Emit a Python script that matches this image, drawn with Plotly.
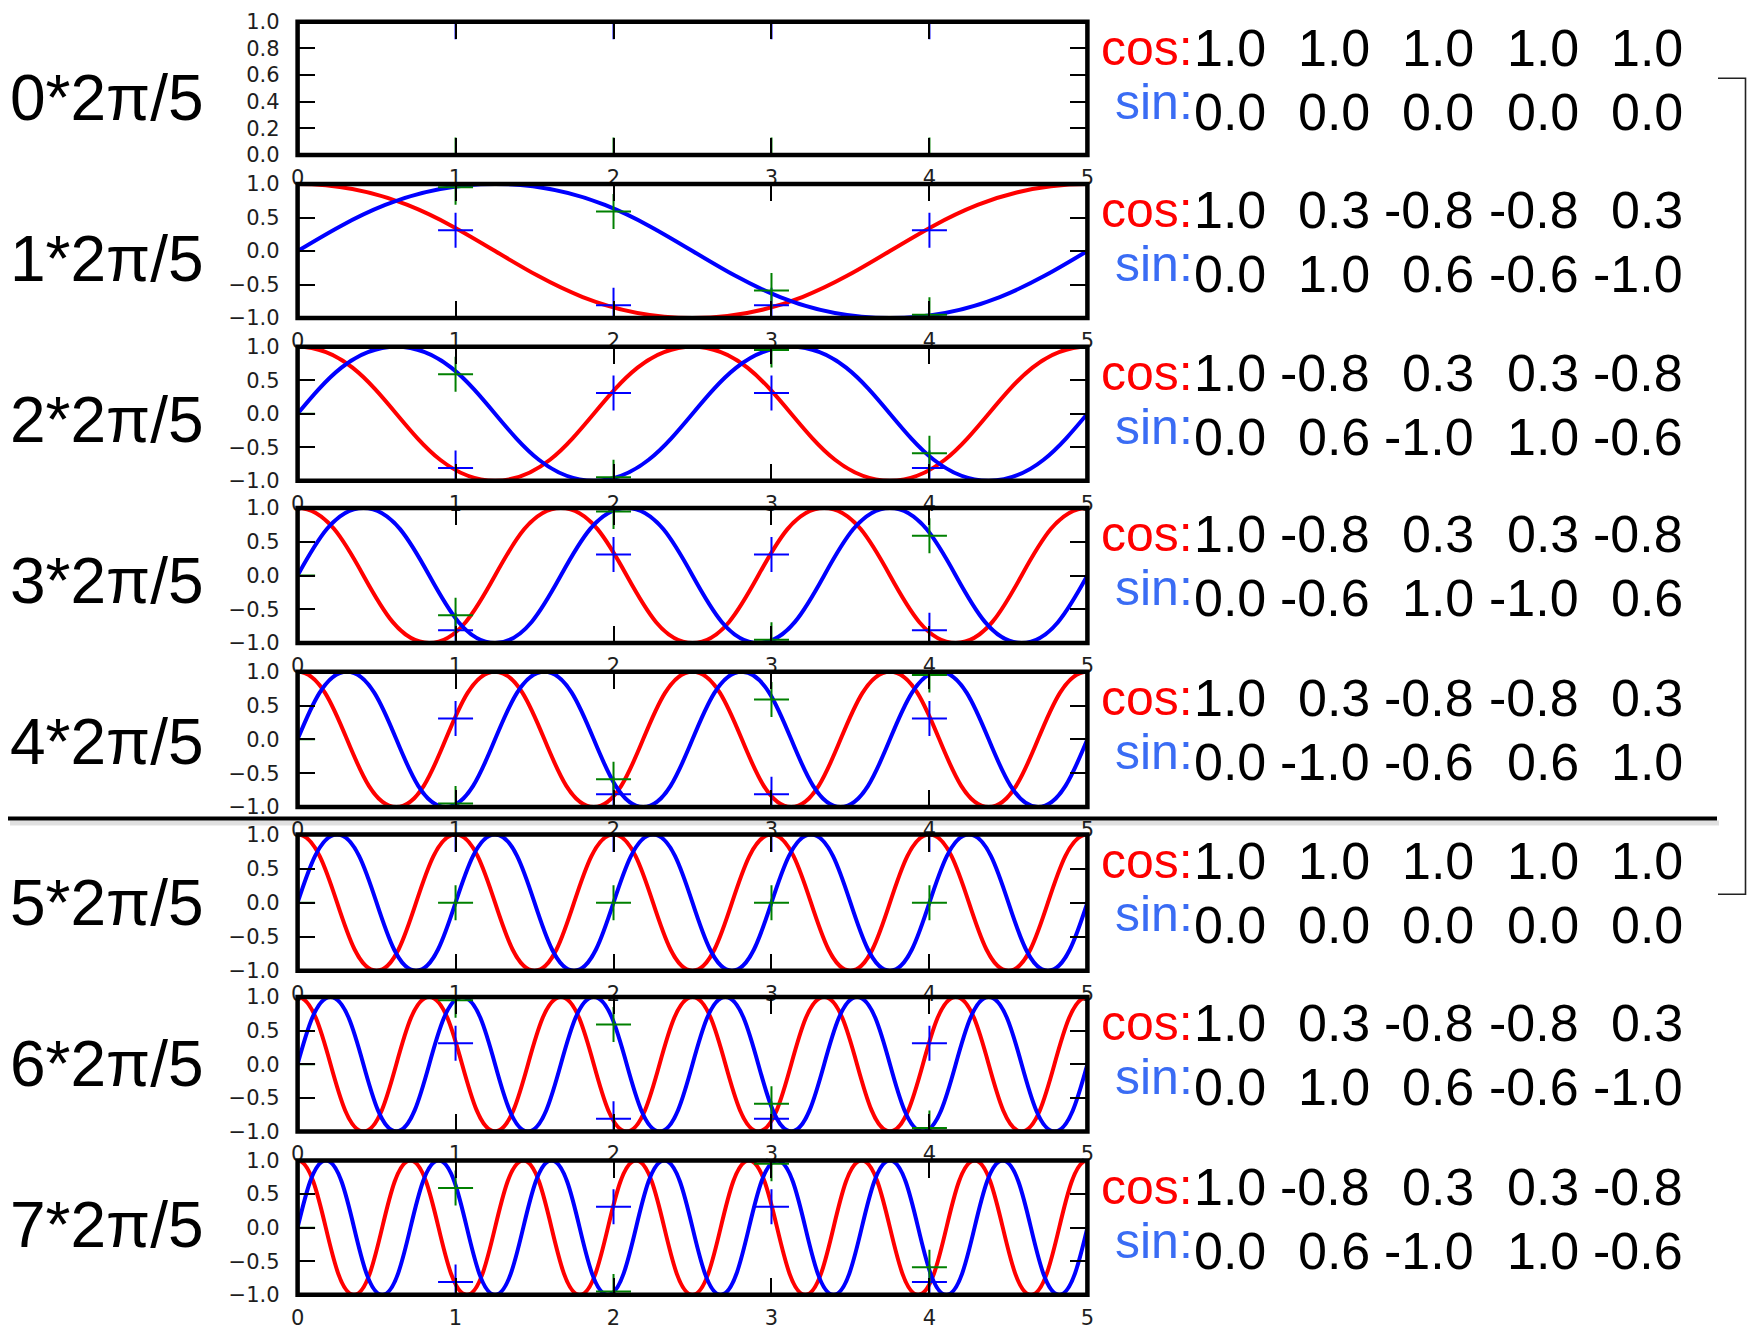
import plotly.graph_objects as go

# ---------------- data ----------------
freq_k = [0, 1, 2, 3, 4, 5, 6, 7]
row_labels = ["0*2π/5", "1*2π/5", "2*2π/5", "3*2π/5", "4*2π/5", "5*2π/5", "6*2π/5", "7*2π/5"]

sample_x = [0, 1, 2, 3, 4]

# sampled values shown by the '+' markers
cos_samples = [
    [1, 1, 1, 1, 1],
    [1, 0.31, -0.81, -0.81, 0.31],
    [1, -0.81, 0.31, 0.31, -0.81],
    [1, -0.81, 0.31, 0.31, -0.81],
    [1, 0.31, -0.81, -0.81, 0.31],
    [1, 1, 1, 1, 1],
    [1, 0.31, -0.81, -0.81, 0.31],
    [1, -0.81, 0.31, 0.31, -0.81],
]
sin_samples = [
    [0, 0, 0, 0, 0],
    [0, 0.95, 0.59, -0.59, -0.95],
    [0, 0.59, -0.95, 0.95, -0.59],
    [0, -0.59, 0.95, -0.95, 0.59],
    [0, -0.95, -0.59, 0.59, 0.95],
    [0, 0, 0, 0, 0],
    [0, 0.95, 0.59, -0.59, -0.95],
    [0, 0.59, -0.95, 0.95, -0.59],
]

# text tables on the right
cos_table = [
    ["1.0", "1.0", "1.0", "1.0", "1.0"],
    ["1.0", "0.3", "-0.8", "-0.8", "0.3"],
    ["1.0", "-0.8", "0.3", "0.3", "-0.8"],
    ["1.0", "-0.8", "0.3", "0.3", "-0.8"],
    ["1.0", "0.3", "-0.8", "-0.8", "0.3"],
    ["1.0", "1.0", "1.0", "1.0", "1.0"],
    ["1.0", "0.3", "-0.8", "-0.8", "0.3"],
    ["1.0", "-0.8", "0.3", "0.3", "-0.8"],
]
sin_table = [
    ["0.0", "0.0", "0.0", "0.0", "0.0"],
    ["0.0", "1.0", "0.6", "-0.6", "-1.0"],
    ["0.0", "0.6", "-1.0", "1.0", "-0.6"],
    ["0.0", "-0.6", "1.0", "-1.0", "0.6"],
    ["0.0", "-1.0", "-0.6", "0.6", "1.0"],
    ["0.0", "0.0", "0.0", "0.0", "0.0"],
    ["0.0", "1.0", "0.6", "-0.6", "-1.0"],
    ["0.0", "0.6", "-1.0", "1.0", "-0.6"],
]

# peaks / troughs of the continuous curves (smoothed by the library's spline)
cos_peak_x = [
    [0, 5],
    [-2.5, 0, 2.5, 5, 7.5],
    [-1.25, 0, 1.25, 2.5, 3.75, 5, 6.25],
    [-0.833, 0, 0.833, 1.667, 2.5, 3.333, 4.167, 5, 5.833],
    [-0.625, 0, 0.625, 1.25, 1.875, 2.5, 3.125, 3.75, 4.375, 5, 5.625],
    [-0.5, 0, 0.5, 1, 1.5, 2, 2.5, 3, 3.5, 4, 4.5, 5, 5.5],
    [-0.417, 0, 0.417, 0.833, 1.25, 1.667, 2.083, 2.5, 2.917, 3.333, 3.75, 4.167, 4.583, 5, 5.417],
    [-0.357, 0, 0.357, 0.714, 1.071, 1.429, 1.786, 2.143, 2.5, 2.857, 3.214, 3.571, 3.929,
     4.286, 4.643, 5, 5.357],
]
cos_peak_y = [
    [1, 1],
    [-1, 1, -1, 1, -1],
    [-1, 1, -1, 1, -1, 1, -1],
    [-1, 1, -1, 1, -1, 1, -1, 1, -1],
    [-1, 1, -1, 1, -1, 1, -1, 1, -1, 1, -1],
    [-1, 1, -1, 1, -1, 1, -1, 1, -1, 1, -1, 1, -1],
    [-1, 1, -1, 1, -1, 1, -1, 1, -1, 1, -1, 1, -1, 1, -1],
    [-1, 1, -1, 1, -1, 1, -1, 1, -1, 1, -1, 1, -1, 1, -1, 1, -1],
]
sin_peak_x = [
    [0, 5],
    [-3.75, -1.25, 1.25, 3.75, 6.25, 8.75],
    [-1.875, -0.625, 0.625, 1.875, 3.125, 4.375, 5.625, 6.875],
    [-1.25, -0.417, 0.417, 1.25, 2.083, 2.917, 3.75, 4.583, 5.417, 6.25],
    [-0.9375, -0.3125, 0.3125, 0.9375, 1.5625, 2.1875, 2.8125, 3.4375, 4.0625, 4.6875,
     5.3125, 5.9375],
    [-0.75, -0.25, 0.25, 0.75, 1.25, 1.75, 2.25, 2.75, 3.25, 3.75, 4.25, 4.75, 5.25, 5.75],
    [-0.625, -0.208, 0.208, 0.625, 1.042, 1.458, 1.875, 2.292, 2.708, 3.125, 3.542, 3.958,
     4.375, 4.792, 5.208, 5.625],
    [-0.536, -0.179, 0.179, 0.536, 0.893, 1.25, 1.607, 1.964, 2.321, 2.679, 3.036, 3.393,
     3.75, 4.107, 4.464, 4.821, 5.179, 5.536],
]
sin_peak_y = [
    [0, 0],
    [1, -1, 1, -1, 1, -1],
    [1, -1, 1, -1, 1, -1, 1, -1],
    [1, -1, 1, -1, 1, -1, 1, -1, 1, -1],
    [1, -1, 1, -1, 1, -1, 1, -1, 1, -1, 1, -1],
    [1, -1, 1, -1, 1, -1, 1, -1, 1, -1, 1, -1, 1, -1],
    [1, -1, 1, -1, 1, -1, 1, -1, 1, -1, 1, -1, 1, -1, 1, -1],
    [1, -1, 1, -1, 1, -1, 1, -1, 1, -1, 1, -1, 1, -1, 1, -1, 1, -1],
]

x_ticks = [0, 1, 2, 3, 4, 5]
y_ticks_first = [0, 0.2, 0.4, 0.6, 0.8, 1.0]
y_ticks_other = [-1, -0.5, 0, 0.5, 1]

# ---------------- layout constants (pixels) ----------------
W, H = 1747, 1331
row_top = [21.7, 184, 346.7, 508, 671.7, 834.5, 997, 1160.5]
row_bot = [155, 318, 480.7, 643, 807, 970.8, 1131.4, 1294.8]
X0, X1 = 297.6, 1087.4


def px(x):
    return x / W


def py(y):
    return 1 - y / H


RED = "#ff0000"
BLUE = "#0000ff"
GREEN = "#008000"
SIN_TXT = "#3a6cf4"
TXT_FONT = "Liberation Sans, Arial, sans-serif"
TICK_FONT = dict(family="DejaVu Sans, sans-serif", size=21, color="#1e1e1e")

fig = go.Figure()
layout_axes = {}
annotations = []
shapes = []

for i, k in enumerate(freq_k):
    n = "" if i == 0 else str(i + 1)
    xa, ya = "x" + n, "y" + n
    common = dict(xaxis=xa, yaxis=ya, hoverinfo="skip", showlegend=False)
    fig.add_trace(go.Scatter(x=cos_peak_x[i], y=cos_peak_y[i], mode="lines",
                             line=dict(color=RED, width=4, shape="spline", smoothing=1.3),
                             **common))
    fig.add_trace(go.Scatter(x=sin_peak_x[i], y=sin_peak_y[i], mode="lines",
                             line=dict(color=BLUE, width=4, shape="spline", smoothing=1.3),
                             **common))
    fig.add_trace(go.Scatter(x=sample_x, y=cos_samples[i], mode="markers",
                             marker=dict(symbol="cross-thin-open", size=25, color=BLUE,
                                         line=dict(color=BLUE, width=2)),
                             **common))
    fig.add_trace(go.Scatter(x=sample_x, y=sin_samples[i], mode="markers",
                             marker=dict(symbol="cross-thin-open", size=25, color=GREEN,
                                         line=dict(color=GREEN, width=2)),
                             **common))

    ax_style = dict(showline=False, mirror="ticks", automargin=False,
                    ticks="inside", ticklen=17, tickwidth=2, tickcolor="black",
                    showgrid=False, zeroline=False, tickfont=TICK_FONT, fixedrange=True)
    layout_axes["xaxis" + n] = dict(domain=[px(X0), px(X1)], anchor=ya, range=[0, 5],
                                    tickvals=x_ticks, tickformat="d", ticklabelstandoff=8,
                                    **ax_style)
    yr = [0, 1] if i == 0 else [-1, 1]
    yt = y_ticks_first if i == 0 else y_ticks_other
    layout_axes["yaxis" + n] = dict(domain=[py(row_bot[i]), py(row_top[i])],
                                    anchor=xa, range=yr, tickvals=yt,
                                    tickformat=".1f", ticklabelstandoff=17, **ax_style)

    # thick frame centred on the data edges (drawn above the curves)
    shapes.append(dict(type="rect", xref="paper", yref="paper", layer="above",
                       x0=px(X0), x1=px(X1), y0=py(row_bot[i]), y1=py(row_top[i]),
                       line=dict(color="black", width=4.5), fillcolor="rgba(0,0,0,0)"))

    top = row_top[i]
    # left big label
    annotations.append(dict(text=row_labels[i], xref="paper", yref="paper",
                            x=px(8), y=py(120 + 161 * i - 22), xanchor="left", yanchor="middle",
                            showarrow=False, font=dict(family=TXT_FONT, size=64, color="black")))
    # cos / sin labels
    annotations.append(dict(text="cos:", xref="paper", yref="paper",
                            x=px(1195), y=py(top + 26), xanchor="right", yanchor="middle",
                            showarrow=False, font=dict(family=TXT_FONT, size=50, color=RED)))
    annotations.append(dict(text="sin:", xref="paper", yref="paper",
                            x=px(1195), y=py(top + 80), xanchor="right", yanchor="middle",
                            showarrow=False, font=dict(family=TXT_FONT, size=50, color=SIN_TXT)))
    for j in range(5):
        xr = 1268 + 104.2 * j
        annotations.append(dict(text=cos_table[i][j], xref="paper", yref="paper",
                                x=px(xr), y=py(top + 26), xanchor="right", yanchor="middle",
                                showarrow=False, font=dict(family=TXT_FONT, size=52, color="black")))
        annotations.append(dict(text=sin_table[i][j], xref="paper", yref="paper",
                                x=px(xr), y=py(top + 90), xanchor="right", yanchor="middle",
                                showarrow=False, font=dict(family=TXT_FONT, size=52, color="black")))

shapes += [
    # soft shadow under the separator
    dict(type="line", xref="paper", yref="paper", x0=px(10), x1=px(1719),
         y0=py(823), y1=py(823), line=dict(color="rgba(0,0,0,0.12)", width=5)),
    # separator between the 4th and 5th rows
    dict(type="line", xref="paper", yref="paper", x0=px(8), x1=px(1717),
         y0=py(818.5), y1=py(818.5), line=dict(color="black", width=4)),
    # bracket on the right
    dict(type="path", xref="paper", yref="paper",
         path=f"M {px(1718)},{py(78.3)} L {px(1745.5)},{py(78.3)} L {px(1745.5)},{py(894.3)} "
              f"L {px(1718)},{py(894.3)}",
         line=dict(color="#222222", width=1.6)),
]

fig.update_layout(
    width=W, height=H, autosize=False,
    margin=dict(l=0, r=0, t=0, b=0, pad=0, autoexpand=False),
    paper_bgcolor="white", plot_bgcolor="white",
    showlegend=False,
    annotations=annotations,
    shapes=shapes,
    **layout_axes,
)

fig.write_html("out.html", config={"displayModeBar": False},
               post_script="document.body.style.margin='0';document.body.style.overflow='hidden';")
